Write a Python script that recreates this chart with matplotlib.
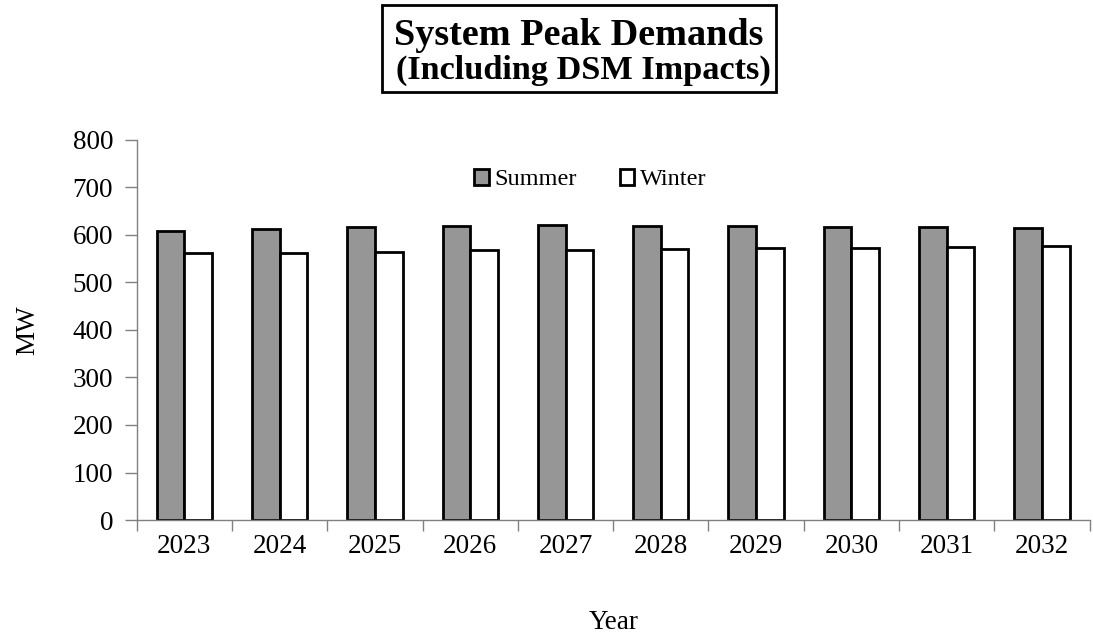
import numpy as np
import matplotlib.pyplot as plt
from matplotlib.patches import Rectangle

plt.rcParams['font.family'] = ['Liberation Serif', 'DejaVu Serif']

years = ['2023', '2024', '2025', '2026', '2027', '2028', '2029', '2030', '2031', '2032']
summer = [609, 613, 617, 618, 620, 619, 618, 617, 616, 615]
winter = [561, 561, 564, 567, 568, 570, 572, 573, 575, 576]

W, H = 1093, 635
fig = plt.figure(figsize=(W / 100, H / 100), dpi=100)
ax = fig.add_axes([0.125, 0.181, 0.872, 0.599])

x = np.arange(len(years))
w = 0.29
ax.bar(x - w / 2, summer, w, color='#969696', edgecolor='black', linewidth=2, label='Summer')
ax.bar(x + w / 2, winter, w, color='white', edgecolor='black', linewidth=2, label='Winter')

ax.set_xlim(-0.5, len(years) - 0.5)
ax.set_ylim(0, 800)
ax.set_yticks(np.arange(0, 801, 100))
ax.set_xticks(x)
ax.set_xticklabels(years)
ax.set_xticks(np.arange(-0.5, len(years)), minor=True)
ax.tick_params(axis='x', which='major', length=0, pad=10, labelsize=19.5)
ax.tick_params(axis='x', which='minor', length=8, width=1, color='#808080', direction='out')
ax.tick_params(axis='y', length=9, width=1, color='#808080', labelsize=19.5, pad=8)

for s in ['top', 'right']:
    ax.spines[s].set_visible(False)
for s in ['left', 'bottom']:
    ax.spines[s].set_color('#808080')
    ax.spines[s].set_linewidth(1)

ax.set_ylabel('MW', fontsize=19.5, labelpad=23)
ax.set_xlabel('Year', fontsize=19.5, labelpad=37)

ax.legend(loc='upper center', bbox_to_anchor=(0.476, 0.98), ncol=2, frameon=False,
          fontsize=17.5, handlelength=0.6, handleheight=0.6, handletextpad=0.25,
          columnspacing=1.75)

# boxed two-line title
fig.add_artist(Rectangle((382 / W, 1 - 92 / H), 394 / W, 87 / H, transform=fig.transFigure,
                         facecolor='white', edgecolor='black', linewidth=2))
fig.text(579 / W, 1 - 45 / H, 'System Peak Demands', ha='center', va='baseline',
         fontsize=27.5, fontweight='bold')
fig.text(583 / W, 1 - 79 / H, '(Including DSM Impacts)', ha='center', va='baseline',
         fontsize=24.7, fontweight='bold')

fig.savefig('out.png', dpi=100)
